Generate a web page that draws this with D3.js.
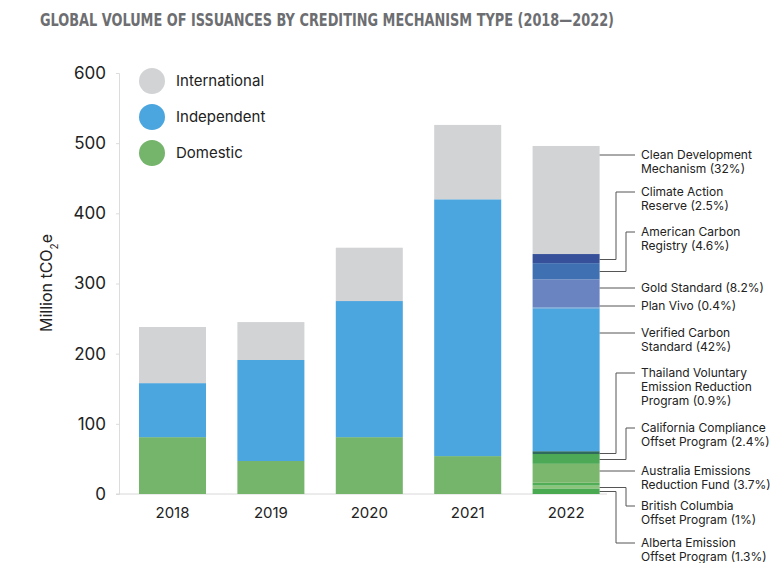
<!DOCTYPE html>
<html lang="en">
<head>
  <meta charset="UTF-8">
  <title>Global volume of issuances</title>
  <script src="https://d3js.org/d3.v7.min.js"></script>
  <style>
    body { margin: 0; background: #fff; font-family: Inter, "Noto Sans", sans-serif; }
    svg { display: block; }
    .tick text { font-family: Inter, sans-serif; }
  </style>
</head>
<body>
  <div id="chart"></div>
  <script>
    // data
    const years = ["2018", "2019", "2020", "2021", "2022"];
    const groups = ["Domestic", "Independent", "International"];
    const domestic = [81, 47, 81, 54];
    const independent = [77, 144, 194, 366];
    const international = [80, 54, 76, 106];
    const yTicks = [0, 100, 200, 300, 400, 500, 600];

    // 2022 breakdown, bottom to top
    const mechNames = ["Alberta Emission Offset Program (1.3%)", "British Columbia Offset Program (1%)", "Other domestic",
      "Australia Emissions Reduction Fund (3.7%)", "California Compliance Offset Program (2.4%)",
      "Thailand Voluntary Emission Reduction Program (0.9%)", "Verified Carbon Standard (42%)", "Plan Vivo (0.4%)",
      "Gold Standard (8.2%)", "American Carbon Registry (4.6%)", "Climate Action Reserve (2.5%)",
      "Clean Development Mechanism (32%)"];
    const mechValues = [8, 4, 4, 27, 14, 4, 203, 2, 40, 23, 13, 154];

    const w = 770, h = 563;
    const groupColor = { Domestic: "#74b46b", Independent: "#4ba5df", International: "#d1d3d4" };
    const mechColors = ["#49aa52", "#8cc47c", "#52ad57", "#7bb86d", "#4da955", "#2f6b5c",
      "#4ba5df", "#5d9fd6", "#6a84c1", "#3e70b2", "#36509a", "#d1d3d4"];

    const svg = d3.select("#chart").append("svg").attr("width", w).attr("height", h);

    svg.append("text")
       .attr("x", 40).attr("y", 26)
       .attr("font-family", "'Liberation Sans Narrow', 'DejaVu Sans Condensed', sans-serif")
       .attr("font-weight", "bold").attr("font-size", 17).attr("fill", "#6d6e71")
       .attr("textLength", 574).attr("lengthAdjust", "spacingAndGlyphs")
       .text("GLOBAL VOLUME OF ISSUANCES BY CREDITING MECHANISM TYPE (2018\u20142022)");

    const x = d3.scaleBand().domain(years).range([107.6, 631]).padding(0.319);
    const y = d3.scaleLinear().domain([0, 600]).range([494, 73]);

    // axes
    const yAxis = svg.append("g").attr("transform", "translate(119,0)")
       .call(d3.axisLeft(y).tickValues(yTicks).tickSize(3).tickPadding(10));
    yAxis.select(".domain").attr("stroke", "#dcdcdc");
    yAxis.selectAll(".tick line").attr("stroke", "#dcdcdc");
    yAxis.selectAll(".tick text").attr("font-size", 17).attr("fill", "#222");

    svg.append("line").attr("x1", 116).attr("x2", 607).attr("y1", y(0)).attr("y2", y(0))
       .attr("stroke", "#d8d8d8");

    const xAxis = svg.append("g").attr("transform", `translate(0,${y(0)})`)
       .call(d3.axisBottom(x).tickSize(0).tickPadding(13));
    xAxis.select(".domain").remove();
    xAxis.selectAll(".tick text").attr("font-size", 15).attr("fill", "#222");

    svg.append("text")
       .attr("transform", "translate(52,283) rotate(-90)")
       .attr("text-anchor", "middle").attr("font-size", 16).attr("fill", "#222")
       .html('Million tCO<tspan baseline-shift="sub" font-size="10">2</tspan>e');

    // stacked bars 2018-2021
    const rows = domestic.map((d, i) => ({ year: years[i], Domestic: d, Independent: independent[i], International: international[i] }));
    const stacked = d3.stack().keys(groups)(rows);
    svg.append("g").selectAll("g").data(stacked).join("g")
       .attr("fill", s => groupColor[s.key])
       .selectAll("rect").data(s => s).join("rect")
       .attr("x", d => x(d.data.year)).attr("width", x.bandwidth())
       .attr("y", d => y(d[1])).attr("height", d => y(d[0]) - y(d[1]));

    // 2022 breakdown
    const mechRows = [];
    let acc = 0;
    mechValues.forEach((v, i) => { mechRows.push({ name: mechNames[i], y0: acc, y1: acc + v, color: mechColors[i] }); acc += v; });
    svg.append("g").selectAll("rect").data(mechRows).join("rect")
       .attr("x", x("2022")).attr("width", x.bandwidth())
       .attr("y", d => y(d.y1)).attr("height", d => y(d.y0) - y(d.y1))
       .attr("fill", d => d.color);

    // legend
    const legend = svg.append("g").selectAll("g").data(["International", "Independent", "Domestic"]).join("g")
       .attr("transform", (d, i) => `translate(152,${81 + i * 36})`);
    legend.append("circle").attr("r", 13).attr("fill", d => groupColor[d]);
    legend.append("text").attr("x", 24).attr("dy", "0.35em").attr("font-size", 15).attr("fill", "#222").text(d => d);

    // annotations: label lines, label y, elbow x (null = straight)
    const annot = [
      { idx: 11, lines: ["Clean Development", "Mechanism (32%)"], ly: 155, elbow: null },
      { idx: 10, lines: ["Climate Action", "Reserve (2.5%)"], ly: 192, elbow: 616 },
      { idx: 9, lines: ["American Carbon", "Registry (4.6%)"], ly: 232, elbow: 626 },
      { idx: 8, lines: ["Gold Standard (8.2%)"], ly: 288, elbow: null },
      { idx: 7, lines: ["Plan Vivo (0.4%)"], ly: 306, elbow: null },
      { idx: 6, lines: ["Verified Carbon", "Standard (42%)"], ly: 333, elbow: null },
      { idx: 5, lines: ["Thailand Voluntary", "Emission Reduction", "Program (0.9%)"], ly: 373, elbow: 616 },
      { idx: 4, lines: ["California Compliance", "Offset Program (2.4%)"], ly: 428, elbow: 626 },
      { idx: 3, lines: ["Australia Emissions", "Reduction Fund (3.7%)"], ly: 471, elbow: null },
      { idx: 1, lines: ["British Columbia", "Offset Program (1%)"], ly: 506, elbow: 626 },
      { idx: 0, lines: ["Alberta Emission", "Offset Program (1.3%)"], ly: 543, elbow: 616 }
    ];
    const barRight = x("2022") + x.bandwidth();
    const ann = svg.append("g").selectAll("g").data(annot).join("g");
    ann.append("path")
       .attr("fill", "none").attr("stroke", "#555").attr("stroke-width", 1)
       .attr("d", a => {
         if (a.elbow === null) return `M${barRight},${a.ly}H635`;
         const r = mechRows[a.idx];
         const ay = Math.round(y((r.y0 + r.y1) / 2)) + 0.5;
         return `M${barRight},${ay}H${a.elbow}V${a.ly}H635`;
       });
    ann.append("text")
       .attr("x", 641).attr("y", a => a.ly)
       .attr("font-size", 12).attr("fill", "#222")
       .selectAll("tspan").data(a => a.lines).join("tspan")
       .attr("x", 641).attr("dy", (d, i) => i === 0 ? "0.35em" : 14)
       .text(d => d);
  </script>
</body>
</html>
